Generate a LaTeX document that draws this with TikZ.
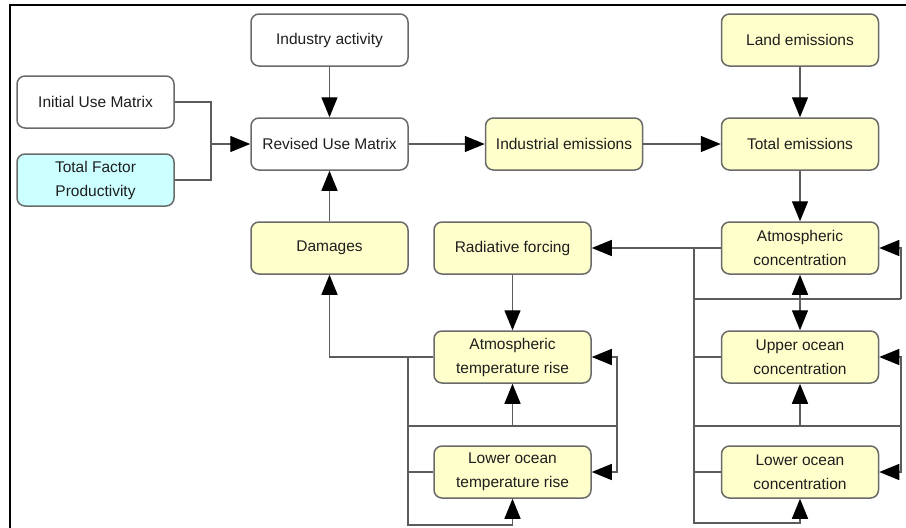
\documentclass[tikz,border=0pt]{standalone}
\usepackage{fontspec}
\setmainfont{Liberation Sans}
\usetikzlibrary{arrows.meta}
\definecolor{boxline}{HTML}{6A6A6A}
\definecolor{wireline}{HTML}{5C5C5C}
\definecolor{pale}{HTML}{FFFFCC}
\definecolor{paleblue}{HTML}{CCFFFF}
\definecolor{ink}{HTML}{1E1E1E}
\tikzset{
  block/.style={draw=boxline, line width=1.5pt, rounded corners=8pt,
    minimum width=157pt, minimum height=52pt, inner sep=2pt, align=center,
    text=ink, font=\fontsize{15.5pt}{24pt}\selectfont},
  plain/.style={block, fill=white},
  emis/.style={block, fill=pale},
  tfpbox/.style={block, fill=paleblue},
  wire/.style={draw=wireline, line width=1.4pt},
  arr/.style={wire, -{Triangle[length=20pt,width=16pt,color=black]}},
}
\begin{document}
\begin{tikzpicture}[x=1pt, y=-1pt]
\useasboundingbox (0,0) rectangle (906,528);
% frame edges
\draw[black, line width=1.2pt] (10,528) -- (10,5) -- (906,5);

% economy blocks
\node[plain]  (ind)  at (329.5,40)  {Industry activity};
\node[plain]  (ium)  at (95.5,102)  {Initial Use Matrix};
\node[tfpbox] (tfp)  at (95.5,180)  {Total Factor\\Productivity};
\node[plain]  (rum)  at (329.5,144) {Revised Use Matrix};
\node[emis]   (iem)  at (564,144)   {Industrial emissions};
\node[emis]   (land) at (800,40)    {Land emissions};
\node[emis]   (tot)  at (800,144)   {Total emissions};
\node[emis]   (dam)  at (329.5,248) {Damages};
% climate blocks
\node[emis]   (rad)  at (512.5,248) {Radiative forcing};
\node[emis]   (atc)  at (800,248)   {Atmospheric\\concentration};
\node[emis]   (atr)  at (512.5,357) {Atmospheric\\temperature rise};
\node[emis]   (uoc)  at (800,357)   {Upper ocean\\concentration};
\node[emis]   (lot)  at (512.5,472) {Lower ocean\\temperature rise};
\node[emis]   (loc)  at (800,472)   {Lower ocean\\concentration};

% junction points
\coordinate (j1) at (211,144);
\coordinate (c1) at (694,299);
\coordinate (c2) at (694,426);
\coordinate (c3) at (694,523);
\coordinate (r1) at (901,299);
\coordinate (r2) at (901,426);
\coordinate (t1) at (408,426);
\coordinate (t2) at (408,525);
\coordinate (tr) at (617,426);

% economy flow
\draw[arr] (ind) -- (rum);
\draw[wire] (ium.east) -| (j1);
\draw[wire] (tfp.east) -| (j1);
\draw[arr] (j1) -- (rum.west);
\draw[arr] (rum) -- (iem);
\draw[arr] (iem) -- (tot);
\draw[arr] (land) -- (tot);
\draw[arr] (tot) -- (atc);
\draw[arr] (dam) -- (rum);
\draw[arr] (atc) -- (rad);
\draw[arr] (rad) -- (atr);

% carbon cycle loops
\draw[arr] (atc.west) -| (c3) -| (loc.south);
\draw[wire] (uoc.west) -- (uoc.west -| c1);
\draw[wire] (loc.west) -- (loc.west -| c1);
\draw[wire] (c1) -- (r1);
\draw[arr] (r1) |- (atc.east);
\draw[arr] (atc.south |- c1) -- (atc.south);
\draw[arr] (atc.south |- c1) -- (uoc.north);
\draw[wire] (c2) -- (r2);
\draw[arr] (r2) |- (uoc.east);
\draw[arr] (r2) |- (loc.east);
\draw[arr] (uoc.south |- c2) -- (uoc.south);

% temperature loops
\draw[arr] (atr.west) -| (dam.south);
\draw[arr] (atr.west -| t2) -- (t2) -| (lot.south);
\draw[wire] (lot.west) -- (lot.west -| t1);
\draw[wire] (t1) -- (tr);
\draw[arr] (tr) |- (atr.east);
\draw[arr] (tr) |- (lot.east);
\draw[arr] (atr.south |- t1) -- (atr.south);
\end{tikzpicture}
\end{document}
